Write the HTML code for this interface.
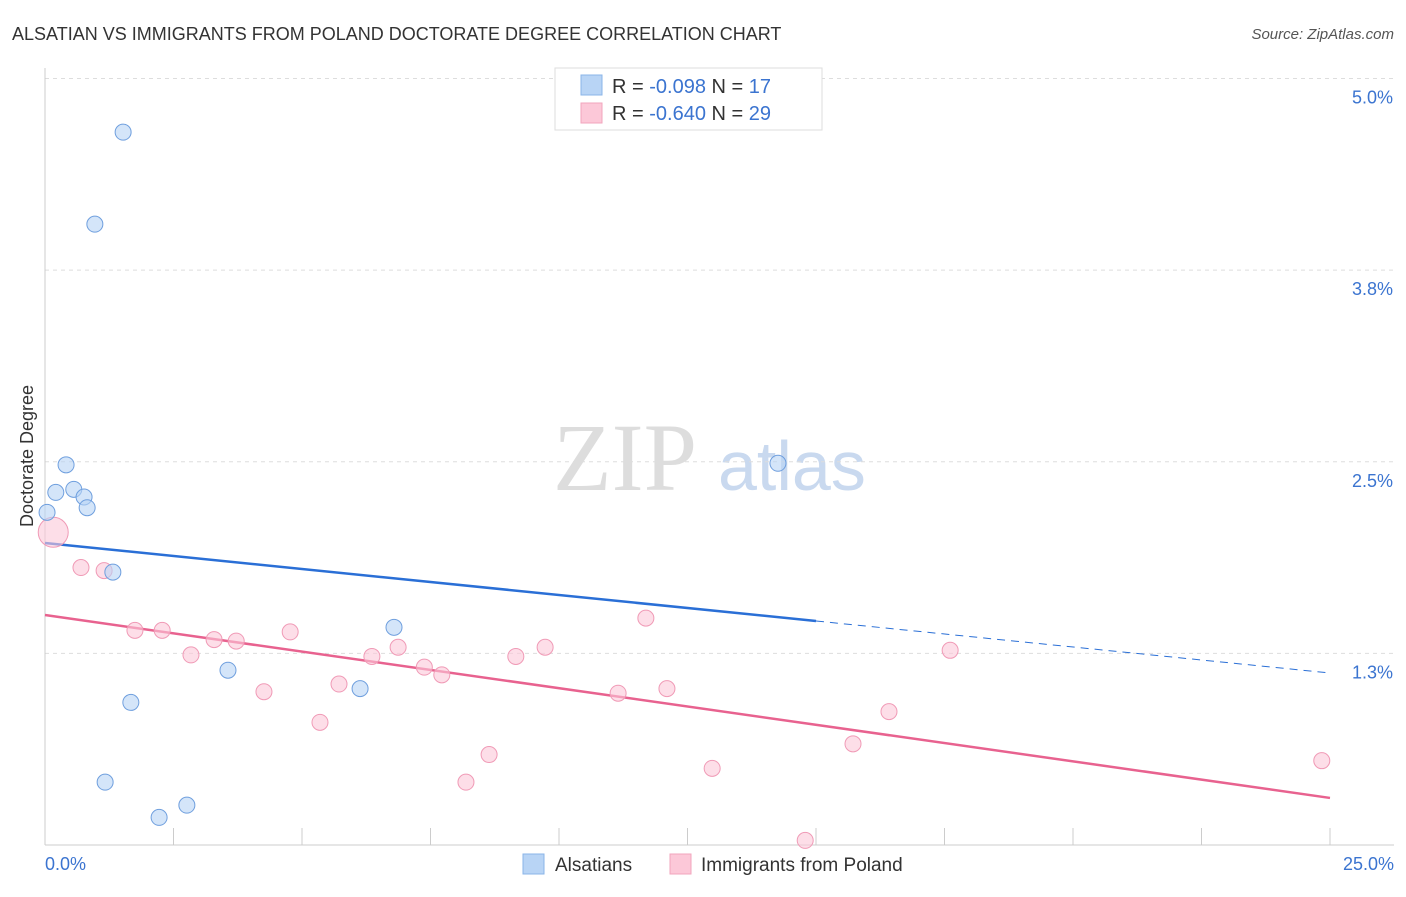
<!DOCTYPE html>
<html><head><meta charset="utf-8"><style>
body{margin:0;background:#fff;font-family:"Liberation Sans",sans-serif}
</style></head><body>
<svg id="c" width="1406" height="892" xmlns="http://www.w3.org/2000/svg" font-family="Liberation Sans, sans-serif">
<text x="12" y="40" font-size="18" fill="#333">ALSATIAN VS IMMIGRANTS FROM POLAND DOCTORATE DEGREE CORRELATION CHART</text>
<text x="1394" y="39" font-size="15" fill="#555" font-style="italic" text-anchor="end">Source: ZipAtlas.com</text>
<text x="33" y="456" font-size="18" fill="#333" text-anchor="middle" transform="rotate(-90 33 456)">Doctorate Degree</text>
<g><text x="553" y="490" font-size="96" fill="#ddd" font-family="Liberation Serif, serif">ZIP</text><text x="718" y="490" font-size="70" fill="#c9d9ef">atlas</text></g>
<g id="grid"></g><g id="axes"></g><g id="lines"></g><g id="pts"></g>
<g>
<rect x="555" y="68" width="267" height="62" fill="#fff" stroke="#ddd"/>
<rect x="581" y="75" width="21" height="20" fill="#b8d4f5" stroke="#8ab4e8"/>
<rect x="581" y="103" width="21" height="20" fill="#fcc8d8" stroke="#f2a5bd"/>
<text x="612" y="93" font-size="20" fill="#333">R = <tspan fill="#3b74d0">-0.098</tspan>   N = <tspan fill="#3b74d0"> 17</tspan></text>
<text x="612" y="120" font-size="20" fill="#333">R = <tspan fill="#3b74d0">-0.640</tspan>   N = <tspan fill="#3b74d0">29</tspan></text>
</g>
<g>
<rect x="523" y="854" width="21" height="20" fill="#b8d4f5" stroke="#8ab4e8"/>
<text x="555" y="871" font-size="19" fill="#333">Alsatians</text>
<rect x="670" y="854" width="21" height="20" fill="#fcc8d8" stroke="#f2a5bd"/>
<text x="701" y="871" font-size="19" fill="#333">Immigrants from Poland</text>
</g>
</svg>
<script>
const yTicks=[5.0,3.75,2.5,1.25];
const yTickLabels=["5.0%","3.8%","2.5%","1.3%"];
const xTickLabels=["0.0%","25.0%"];
const blueX=[1.52,0.97,0.41,0.21,0.56,0.76,0.82,0.04,1.32,6.79,3.56,6.13,1.67,1.17,2.76,2.22,14.26];
const blueY=[4.65,4.05,2.48,2.30,2.32,2.27,2.20,2.17,1.78,1.42,1.14,1.02,0.93,0.41,0.26,0.18,2.49];
const pinkX=[0.16,0.70,1.15,1.75,2.28,2.84,3.29,3.72,4.77,4.26,5.35,5.72,6.36,6.87,7.38,7.72,8.19,8.64,9.16,9.73,11.15,11.69,12.10,12.98,14.79,15.72,16.42,17.61,24.84];
const pinkY=[2.04,1.81,1.79,1.40,1.40,1.24,1.34,1.33,1.39,1.00,0.80,1.05,1.23,1.29,1.16,1.11,0.41,0.59,1.23,1.29,0.99,1.48,1.02,0.50,0.03,0.66,0.87,1.27,0.55];
const blueTrend=[1.97,1.122]; // values at 0% and 25%
const pinkTrend=[1.50,0.307];
const blueSolidEnd=15.0;
const NS="http://www.w3.org/2000/svg";
const X=v=>45+v/25*1285, Y=v=>845-v*153.3;
function mk(t,a,p){const e=document.createElementNS(NS,t);for(const k in a)e.setAttribute(k,a[k]);document.getElementById(p).appendChild(e);return e;}
yTicks.forEach((t,i)=>{
 const l=mk('line',{x1:45,x2:1394,y1:Y(t),y2:Y(t),stroke:'#ddd','stroke-dasharray':'4 4'},'grid');
 
 
 const tx=mk('text',{x:1393,y:Y(t)+25,'font-size':18,fill:'#3b74d0','text-anchor':'end'},'axes');tx.textContent=yTickLabels[i];
 
 
});
const ax=mk('line',{x1:45,x2:45,y1:68,y2:845,stroke:'#ccc'},'axes');


const bx=mk('line',{x1:45,x2:1394,y1:845,y2:845,stroke:'#ccc'},'axes');


for(let i=0;i<=10;i++){const t=mk('line',{x1:X(i*2.5),x2:X(i*2.5),y1:828,y2:845,stroke:'#ccc'},'axes');
 
 }
[[0,'start',45],[25,'end',1394]].forEach((d,i)=>{const t=mk('text',{x:d[2],y:870,'font-size':18,fill:'#3b74d0','text-anchor':d[1]},'axes');t.textContent=xTickLabels[i];
 
 });
const bt=v=>blueTrend[0]+(blueTrend[1]-blueTrend[0])*v/25;
let l1=mk('line',{x1:X(0),y1:Y(bt(0)),x2:X(blueSolidEnd),y2:Y(bt(blueSolidEnd)),stroke:'#2a6fd6','stroke-width':2.5},'lines');


let l2=mk('line',{x1:X(blueSolidEnd),y1:Y(bt(blueSolidEnd)),x2:X(25),y2:Y(bt(25)),stroke:'#2a6fd6','stroke-width':1,'stroke-dasharray':'8 6'},'lines');


let l3=mk('line',{x1:X(0),y1:Y(pinkTrend[0]),x2:X(25),y2:Y(pinkTrend[1]),stroke:'#e8628f','stroke-width':2.5},'lines');


pinkX.forEach((x,i)=>{const c=mk('circle',{cx:X(x),cy:Y(pinkY[i]),r:i==0?15:8,fill:'#fcc8d8','fill-opacity':0.6,stroke:'#f09ab6'},'pts');
 
 });
blueX.forEach((x,i)=>{const c=mk('circle',{cx:X(x),cy:Y(blueY[i]),r:8,fill:'#b8d4f5','fill-opacity':0.6,stroke:'#6f9fde'},'pts');
 
 });
</script>
</body></html>
